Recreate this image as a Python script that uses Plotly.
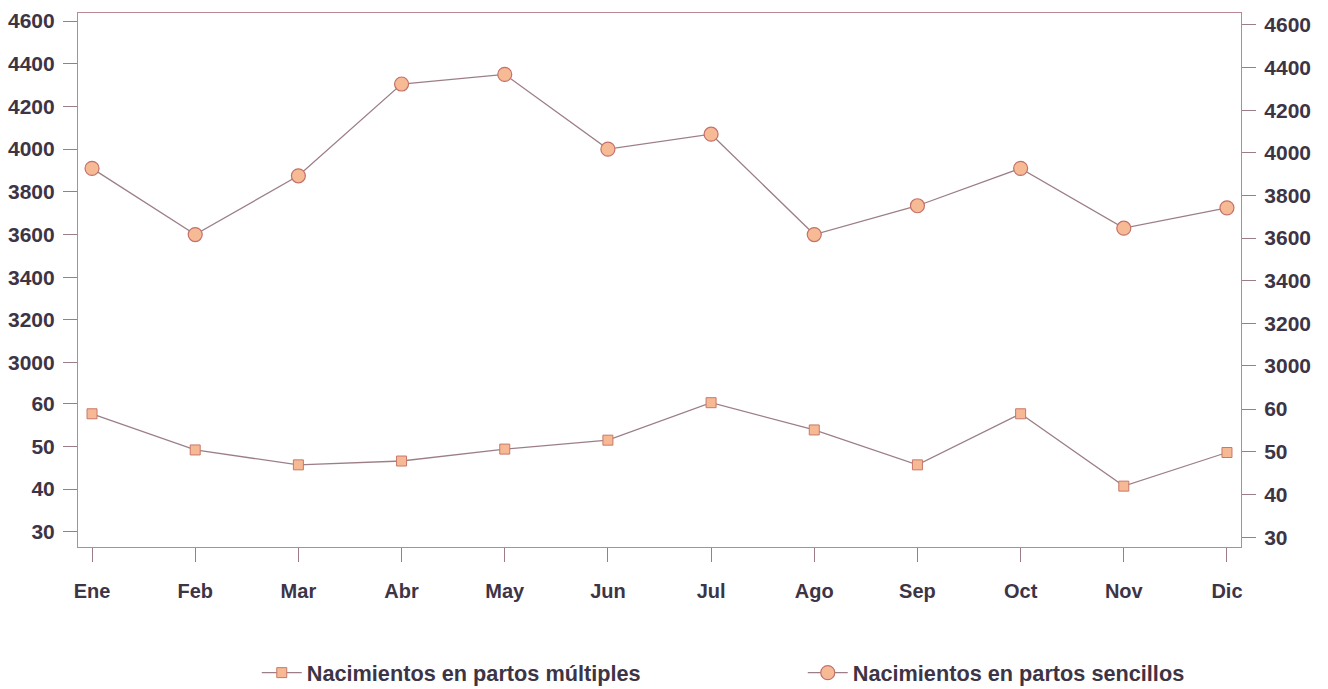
import plotly.graph_objects as go

meses = ["Ene", "Feb", "Mar", "Abr", "May", "Jun", "Jul", "Ago", "Sep", "Oct", "Nov", "Dic"]
sencillos = [3910, 3600, 3875, 4305, 4350, 4000, 4070, 3600, 3735, 3910, 3630, 3725]
multiples = [57.7, 49.2, 45.7, 46.6, 49.4, 51.5, 60.3, 53.9, 45.7, 57.7, 40.7, 48.6]
ticks_sencillos = [3000, 3200, 3400, 3600, 3800, 4000, 4200, 4400, 4600]
ticks_multiples = [30, 40, 50, 60]

LINE = "#9c7f86"
AXIS = "#b88894"
TXT = "#3d3445"
YFONT = dict(family="Liberation Sans", size=21, color=TXT, weight="bold")
XFONT = dict(family="Liberation Sans", size=20, color=TXT, weight="bold")

fig = go.Figure()
fig.add_trace(go.Scatter(
    x=meses, y=multiples, name="Nacimientos en partos múltiples", mode="lines+markers",
    line=dict(color=LINE, width=1.3),
    marker=dict(symbol="square", size=10, color="#f6b993", line=dict(color="#c8786a", width=1)),
    yaxis="y2"))
fig.add_trace(go.Scatter(
    x=meses, y=sencillos, name="Nacimientos en partos sencillos", mode="lines+markers",
    line=dict(color=LINE, width=1.3),
    marker=dict(symbol="circle", size=14, color="#f6bb95", line=dict(color="#c4706a", width=1.2)),
    yaxis="y"))

common_y = dict(showgrid=False, zeroline=False, ticks="outside", ticklen=14, tickwidth=1,
                tickcolor="#9c7c88", tickfont=YFONT, ticklabelstandoff=4, automargin=False)

fig.update_layout(
    width=1320, height=681,
    margin=dict(l=70, r=87, t=5, b=142, autoexpand=False),
    paper_bgcolor="white", plot_bgcolor="white",
    showlegend=True,
    legend=dict(orientation="h", x=0.1537, xanchor="left", y=-0.236, yanchor="middle",
                font=dict(family="Liberation Sans", size=21.7, color=TXT, weight="bold"),
                entrywidth=491, entrywidthmode="pixels", itemwidth=40,
                bgcolor="rgba(0,0,0,0)"),
    xaxis=dict(type="category", range=[-0.136, 11.136], showgrid=False, zeroline=False,
               showline=True, mirror=True, linecolor=AXIS, linewidth=1.2,
               ticks="outside", ticklen=14, tickcolor="#9c7c88", tickfont=XFONT,
               ticklabelstandoff=12, automargin=False),
    yaxis=dict(range=[2137, 4637.5], tickvals=ticks_sencillos, side="left",
               showline=True, linecolor=AXIS, linewidth=1.2, **common_y),
    yaxis2=dict(range=[26.4, 151.85], tickvals=ticks_multiples, side="left",
                overlaying="y", showline=False, **common_y),
    yaxis3=dict(range=[2150.7, 4656], tickvals=ticks_sencillos, side="right",
                overlaying="y", showline=True, linecolor=AXIS, linewidth=1.2, **common_y),
    yaxis4=dict(range=[27.83, 152.4], tickvals=ticks_multiples, side="right",
                overlaying="y", showline=False, **common_y),
)
# invisible traces to activate the right-side axes
fig.add_trace(go.Scatter(x=meses, y=sencillos, yaxis="y3", mode="lines", line=dict(width=0),
                         showlegend=False, hoverinfo="skip", opacity=0))
fig.add_trace(go.Scatter(x=meses, y=multiples, yaxis="y4", mode="lines", line=dict(width=0),
                         showlegend=False, hoverinfo="skip", opacity=0))

fig.write_html("out.html")
